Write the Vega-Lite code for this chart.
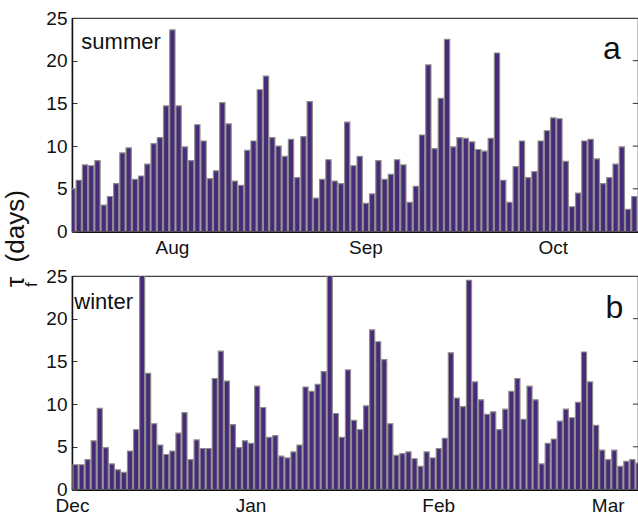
{
  "$schema": "https://vega.github.io/schema/vega-lite/v6.json",
  "background": "white",
  "padding": {"left": 3, "top": 8, "right": 0, "bottom": 0},
  "spacing": 7,
  "config": {
    "font": "Liberation Sans",
    "view": {"stroke": "#444", "strokeWidth": 1.2},
    "axis": {"labelFont": "Liberation Sans", "labelFontSize": 19, "labelColor": "#111", "domainColor": "#111", "tickColor": "#333", "grid": false, "labelFlush": false}
  },
  "title": {
    "text": "τ\u00a0\u00a0(days)",
    "subtitle": "f",
    "orient": "left",
    "anchor": "start",
    "dx": 229,
    "font": "Liberation Sans",
    "fontSize": 26,
    "fontWeight": "normal",
    "color": "#111",
    "subtitleFont": "Liberation Sans",
    "subtitleFontSize": 17,
    "subtitleColor": "#111",
    "subtitlePadding": -5,
    "offset": 5
  },
  "datasets": {
    "summer": [
      {"date": "2010-07-16", "tau": 5.0}, {"date": "2010-07-17", "tau": 6.0}, {"date": "2010-07-18", "tau": 7.8}, {"date": "2010-07-19", "tau": 7.7},
      {"date": "2010-07-20", "tau": 8.3}, {"date": "2010-07-21", "tau": 3.1}, {"date": "2010-07-22", "tau": 4.1}, {"date": "2010-07-23", "tau": 5.6},
      {"date": "2010-07-24", "tau": 9.2}, {"date": "2010-07-25", "tau": 9.8}, {"date": "2010-07-26", "tau": 6.1}, {"date": "2010-07-27", "tau": 6.5},
      {"date": "2010-07-28", "tau": 7.9}, {"date": "2010-07-29", "tau": 10.3}, {"date": "2010-07-30", "tau": 11.0}, {"date": "2010-07-31", "tau": 14.7},
      {"date": "2010-08-01", "tau": 23.6}, {"date": "2010-08-02", "tau": 14.7}, {"date": "2010-08-03", "tau": 9.9}, {"date": "2010-08-04", "tau": 8.3},
      {"date": "2010-08-05", "tau": 12.5}, {"date": "2010-08-06", "tau": 10.6}, {"date": "2010-08-07", "tau": 6.2}, {"date": "2010-08-08", "tau": 7.1},
      {"date": "2010-08-09", "tau": 15.1}, {"date": "2010-08-10", "tau": 12.6}, {"date": "2010-08-11", "tau": 5.9}, {"date": "2010-08-12", "tau": 5.4},
      {"date": "2010-08-13", "tau": 9.5}, {"date": "2010-08-14", "tau": 10.6}, {"date": "2010-08-15", "tau": 16.6}, {"date": "2010-08-16", "tau": 18.2},
      {"date": "2010-08-17", "tau": 11.0}, {"date": "2010-08-18", "tau": 10.0}, {"date": "2010-08-19", "tau": 8.8}, {"date": "2010-08-20", "tau": 10.8},
      {"date": "2010-08-21", "tau": 6.3}, {"date": "2010-08-22", "tau": 11.1}, {"date": "2010-08-23", "tau": 15.2}, {"date": "2010-08-24", "tau": 3.9},
      {"date": "2010-08-25", "tau": 6.1}, {"date": "2010-08-26", "tau": 8.4}, {"date": "2010-08-27", "tau": 5.9}, {"date": "2010-08-28", "tau": 5.6},
      {"date": "2010-08-29", "tau": 12.8}, {"date": "2010-08-30", "tau": 7.7}, {"date": "2010-08-31", "tau": 8.8}, {"date": "2010-09-01", "tau": 3.3},
      {"date": "2010-09-02", "tau": 4.4}, {"date": "2010-09-03", "tau": 8.3}, {"date": "2010-09-04", "tau": 6.1}, {"date": "2010-09-05", "tau": 6.7},
      {"date": "2010-09-06", "tau": 8.4}, {"date": "2010-09-07", "tau": 7.8}, {"date": "2010-09-08", "tau": 3.4}, {"date": "2010-09-09", "tau": 5.3},
      {"date": "2010-09-10", "tau": 11.3}, {"date": "2010-09-11", "tau": 19.5}, {"date": "2010-09-12", "tau": 9.7}, {"date": "2010-09-13", "tau": 15.6},
      {"date": "2010-09-14", "tau": 22.5}, {"date": "2010-09-15", "tau": 9.9}, {"date": "2010-09-16", "tau": 11.0}, {"date": "2010-09-17", "tau": 10.9},
      {"date": "2010-09-18", "tau": 10.5}, {"date": "2010-09-19", "tau": 9.6}, {"date": "2010-09-20", "tau": 9.4}, {"date": "2010-09-21", "tau": 10.9},
      {"date": "2010-09-22", "tau": 20.9}, {"date": "2010-09-23", "tau": 6.0}, {"date": "2010-09-24", "tau": 3.4}, {"date": "2010-09-25", "tau": 7.6},
      {"date": "2010-09-26", "tau": 10.6}, {"date": "2010-09-27", "tau": 6.3}, {"date": "2010-09-28", "tau": 7.0}, {"date": "2010-09-29", "tau": 10.6},
      {"date": "2010-09-30", "tau": 11.8}, {"date": "2010-10-01", "tau": 13.3}, {"date": "2010-10-02", "tau": 13.2}, {"date": "2010-10-03", "tau": 8.2},
      {"date": "2010-10-04", "tau": 2.9}, {"date": "2010-10-05", "tau": 4.5}, {"date": "2010-10-06", "tau": 10.6}, {"date": "2010-10-07", "tau": 10.8},
      {"date": "2010-10-08", "tau": 8.5}, {"date": "2010-10-09", "tau": 5.6}, {"date": "2010-10-10", "tau": 6.3}, {"date": "2010-10-11", "tau": 7.9},
      {"date": "2010-10-12", "tau": 9.9}, {"date": "2010-10-13", "tau": 2.6}, {"date": "2010-10-14", "tau": 4.1}
    ],
    "winter": [
      {"date": "2010-12-03", "tau": 2.9}, {"date": "2010-12-04", "tau": 2.9}, {"date": "2010-12-05", "tau": 3.5}, {"date": "2010-12-06", "tau": 5.7},
      {"date": "2010-12-07", "tau": 9.5}, {"date": "2010-12-08", "tau": 4.9}, {"date": "2010-12-09", "tau": 3.0}, {"date": "2010-12-10", "tau": 2.3},
      {"date": "2010-12-11", "tau": 2.0}, {"date": "2010-12-12", "tau": 4.5}, {"date": "2010-12-13", "tau": 7.0}, {"date": "2010-12-14", "tau": 27.0},
      {"date": "2010-12-15", "tau": 13.6}, {"date": "2010-12-16", "tau": 7.7}, {"date": "2010-12-17", "tau": 5.2}, {"date": "2010-12-18", "tau": 4.1},
      {"date": "2010-12-19", "tau": 4.5}, {"date": "2010-12-20", "tau": 6.6}, {"date": "2010-12-21", "tau": 9.0}, {"date": "2010-12-22", "tau": 3.5},
      {"date": "2010-12-23", "tau": 5.8}, {"date": "2010-12-24", "tau": 4.8}, {"date": "2010-12-25", "tau": 4.8}, {"date": "2010-12-26", "tau": 13.0},
      {"date": "2010-12-27", "tau": 16.2}, {"date": "2010-12-28", "tau": 12.7}, {"date": "2010-12-29", "tau": 7.6}, {"date": "2010-12-30", "tau": 4.9},
      {"date": "2010-12-31", "tau": 5.7}, {"date": "2011-01-01", "tau": 5.4}, {"date": "2011-01-02", "tau": 12.1}, {"date": "2011-01-03", "tau": 9.6},
      {"date": "2011-01-04", "tau": 6.1}, {"date": "2011-01-05", "tau": 6.3}, {"date": "2011-01-06", "tau": 3.9}, {"date": "2011-01-07", "tau": 3.7},
      {"date": "2011-01-08", "tau": 4.4}, {"date": "2011-01-09", "tau": 5.2}, {"date": "2011-01-10", "tau": 12.0}, {"date": "2011-01-11", "tau": 11.5},
      {"date": "2011-01-12", "tau": 12.3}, {"date": "2011-01-13", "tau": 13.8}, {"date": "2011-01-14", "tau": 27.0}, {"date": "2011-01-15", "tau": 8.9},
      {"date": "2011-01-16", "tau": 6.1}, {"date": "2011-01-17", "tau": 14.0}, {"date": "2011-01-18", "tau": 8.1}, {"date": "2011-01-19", "tau": 7.0},
      {"date": "2011-01-20", "tau": 9.8}, {"date": "2011-01-21", "tau": 18.7}, {"date": "2011-01-22", "tau": 17.3}, {"date": "2011-01-23", "tau": 15.2},
      {"date": "2011-01-24", "tau": 7.7}, {"date": "2011-01-25", "tau": 4.0}, {"date": "2011-01-26", "tau": 4.2}, {"date": "2011-01-27", "tau": 4.4},
      {"date": "2011-01-28", "tau": 3.6}, {"date": "2011-01-29", "tau": 2.7}, {"date": "2011-01-30", "tau": 4.4}, {"date": "2011-01-31", "tau": 3.7},
      {"date": "2011-02-01", "tau": 4.8}, {"date": "2011-02-02", "tau": 6.0}, {"date": "2011-02-03", "tau": 16.0}, {"date": "2011-02-04", "tau": 10.7},
      {"date": "2011-02-05", "tau": 9.7}, {"date": "2011-02-06", "tau": 24.5}, {"date": "2011-02-07", "tau": 12.6}, {"date": "2011-02-08", "tau": 10.5},
      {"date": "2011-02-09", "tau": 8.8}, {"date": "2011-02-10", "tau": 9.1}, {"date": "2011-02-11", "tau": 7.0}, {"date": "2011-02-12", "tau": 9.4},
      {"date": "2011-02-13", "tau": 11.5}, {"date": "2011-02-14", "tau": 13.0}, {"date": "2011-02-15", "tau": 8.2}, {"date": "2011-02-16", "tau": 12.1},
      {"date": "2011-02-17", "tau": 10.5}, {"date": "2011-02-18", "tau": 3.0}, {"date": "2011-02-19", "tau": 5.4}, {"date": "2011-02-20", "tau": 5.9},
      {"date": "2011-02-21", "tau": 8.0}, {"date": "2011-02-22", "tau": 9.4}, {"date": "2011-02-23", "tau": 8.4}, {"date": "2011-02-24", "tau": 10.2},
      {"date": "2011-02-25", "tau": 16.1}, {"date": "2011-02-26", "tau": 12.6}, {"date": "2011-02-27", "tau": 7.5}, {"date": "2011-02-28", "tau": 4.6},
      {"date": "2011-03-01", "tau": 3.5}, {"date": "2011-03-02", "tau": 4.6}, {"date": "2011-03-03", "tau": 2.7}, {"date": "2011-03-04", "tau": 3.3},
      {"date": "2011-03-05", "tau": 3.5}, {"date": "2011-03-06", "tau": 3.1}
    ],
    "ticks": [{"v": 5}, {"v": 10}, {"v": 15}, {"v": 20}]
  },
  "vconcat": [
    {
      "width": 566,
      "height": 213.5,
      "layer": [
        {
          "data": {"name": "summer"},
          "mark": {"type": "bar", "fill": "#472a78", "stroke": "#8c8c8c", "strokeWidth": 1.2, "clip": true},
          "encoding": {
            "x": {
              "field": "date", "type": "temporal", "timeUnit": "utcyearmonthdate",
              "scale": {"type": "utc", "domain": [{"year": 2010, "month": 7, "date": 16, "hours": 12, "utc": true}, {"year": 2010, "month": 10, "date": 15, "hours": 4, "utc": true}]},
              "axis": {
                "values": [{"year": 2010, "month": 8, "date": 1, "hours": 12, "utc": true}, {"year": 2010, "month": 9, "date": 1, "hours": 12, "utc": true}, {"year": 2010, "month": 10, "date": 1, "hours": 12, "utc": true}],
                "labelExpr": "utcFormat(datum.value, '%b')", "ticks": false, "labelPadding": 7, "domainWidth": 2, "title": null
              }
            },
            "y": {
              "field": "tau", "type": "quantitative",
              "scale": {"domain": [0, 25], "nice": false},
              "axis": {"values": [0, 5, 10, 15, 20, 25], "tickSize": -5, "labelPadding": 10, "domainWidth": 1.5, "title": null}
            }
          }
        },
        {
          "data": {"name": "ticks"},
          "mark": {"type": "rule", "color": "#333", "strokeWidth": 1},
          "encoding": {
            "x": {"datum": {"year": 2010, "month": 10, "date": 14, "hours": 8, "utc": true}, "type": "temporal"},
            "x2": {"datum": {"year": 2010, "month": 10, "date": 15, "hours": 4, "utc": true}},
            "y": {"field": "v", "type": "quantitative"}
          }
        },
        {
          "data": {"values": [{"label": "summer"}]},
          "mark": {"type": "text", "align": "left", "baseline": "alphabetic", "fontSize": 22, "font": "Liberation Sans", "color": "#111"},
          "encoding": {
            "x": {"datum": {"year": 2010, "month": 7, "date": 18, "utc": true}, "type": "temporal"},
            "y": {"datum": 21.4, "type": "quantitative"},
            "text": {"field": "label"}
          }
        },
        {
          "data": {"values": [{"label": "a"}]},
          "mark": {"type": "text", "align": "center", "baseline": "alphabetic", "fontSize": 32, "font": "Liberation Sans", "color": "#111"},
          "encoding": {
            "x": {"datum": {"year": 2010, "month": 10, "date": 11, "utc": true}, "type": "temporal"},
            "y": {"datum": 20.2, "type": "quantitative"},
            "text": {"field": "label"}
          }
        }
      ]
    },
    {
      "width": 566,
      "height": 213.5,
      "layer": [
        {
          "data": {"name": "winter"},
          "mark": {"type": "bar", "fill": "#472a78", "stroke": "#8c8c8c", "strokeWidth": 1.2, "clip": true},
          "encoding": {
            "x": {
              "field": "date", "type": "temporal", "timeUnit": "utcyearmonthdate",
              "scale": {"type": "utc", "domain": [{"year": 2010, "month": 12, "date": 3, "utc": true}, {"year": 2011, "month": 3, "date": 6, "hours": 12, "utc": true}]},
              "axis": {
                "values": [{"year": 2010, "month": 12, "date": 3, "utc": true}, {"year": 2011, "month": 1, "date": 1, "hours": 12, "utc": true}, {"year": 2011, "month": 2, "date": 1, "hours": 12, "utc": true}, {"year": 2011, "month": 3, "date": 1, "hours": 12, "utc": true}],
                "labelExpr": "utcFormat(datum.value, '%b')", "ticks": false, "labelPadding": 7, "domainWidth": 2, "title": null
              }
            },
            "y": {
              "field": "tau", "type": "quantitative",
              "scale": {"domain": [0, 25], "nice": false},
              "axis": {"values": [0, 5, 10, 15, 20, 25], "tickSize": -5, "labelPadding": 10, "domainWidth": 1.5, "title": null}
            }
          }
        },
        {
          "data": {"name": "ticks"},
          "mark": {"type": "rule", "color": "#333", "strokeWidth": 1},
          "encoding": {
            "x": {"datum": {"year": 2011, "month": 3, "date": 5, "hours": 16, "utc": true}, "type": "temporal"},
            "x2": {"datum": {"year": 2011, "month": 3, "date": 6, "hours": 12, "utc": true}},
            "y": {"field": "v", "type": "quantitative"}
          }
        },
        {
          "data": {"values": [{"label": "winter"}]},
          "mark": {"type": "text", "align": "left", "baseline": "alphabetic", "fontSize": 22, "font": "Liberation Sans", "color": "#111"},
          "encoding": {
            "x": {"datum": {"year": 2010, "month": 12, "date": 3, "hours": 9, "utc": true}, "type": "temporal"},
            "y": {"datum": 21.1, "type": "quantitative"},
            "text": {"field": "label"}
          }
        },
        {
          "data": {"values": [{"label": "b"}]},
          "mark": {"type": "text", "align": "center", "baseline": "alphabetic", "fontSize": 32, "font": "Liberation Sans", "color": "#111"},
          "encoding": {
            "x": {"datum": {"year": 2011, "month": 3, "date": 2, "hours": 14, "utc": true}, "type": "temporal"},
            "y": {"datum": 20.1, "type": "quantitative"},
            "text": {"field": "label"}
          }
        }
      ]
    }
  ]
}
